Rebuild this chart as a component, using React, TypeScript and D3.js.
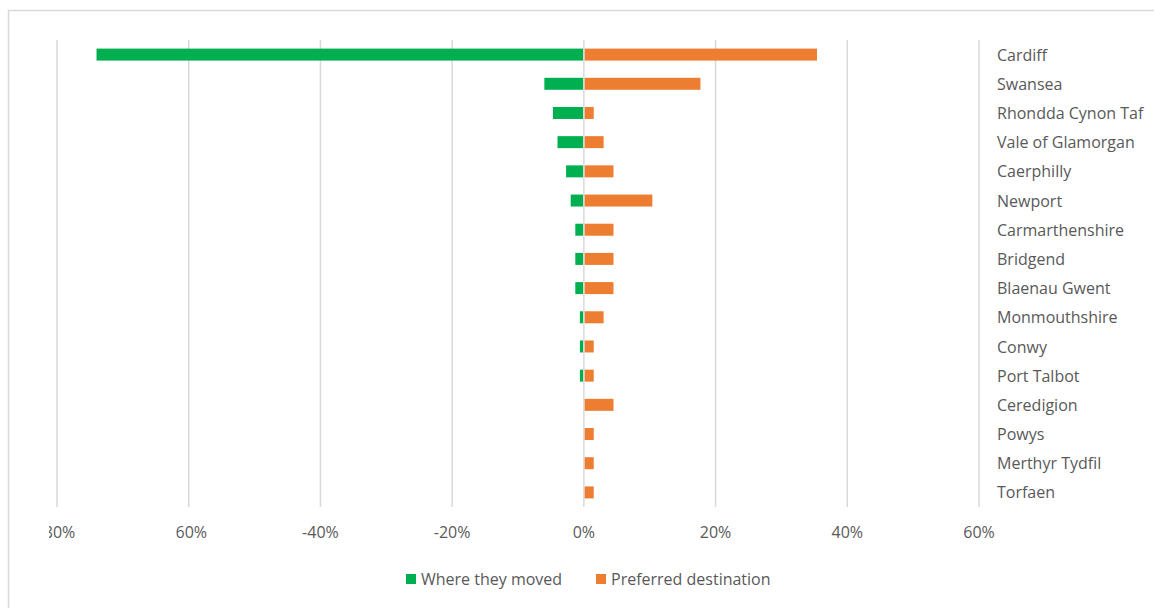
import React from "react";
import * as d3 from "d3";

const categories = [
  "Cardiff", "Swansea", "Rhondda Cynon Taf", "Vale of Glamorgan", "Caerphilly", "Newport",
  "Carmarthenshire", "Bridgend", "Blaenau Gwent", "Monmouthshire", "Conwy", "Port Talbot",
  "Ceredigion", "Powys", "Merthyr Tydfil", "Torfaen",
];
const whereTheyMoved = [-74.0, -6.0, -4.7, -4.0, -2.7, -2.0, -1.3, -1.3, -1.3, -0.6, -0.6, -0.6, 0, 0, 0, 0];
const preferredDestination = [35.4, 17.7, 1.5, 3.0, 4.5, 10.4, 4.5, 4.5, 4.5, 3.0, 1.5, 1.5, 4.5, 1.5, 1.5, 1.5];
const tickValues = [-80, -60, -40, -20, 0, 20, 40, 60];
const seriesNames = ["Where they moved", "Preferred destination"];
const colors = ["#00B050", "#ED7D31"];

const W = 1154;
const H = 608;
const FONT = "'Open Sans', sans-serif";
const FS = 16;

export default function App() {
  const x = d3.scaleLinear().domain([-80, 60]).range([57, 979]);
  const y = d3.scaleBand<string>().domain(categories).range([40, 507]);
  const barH = 12;
  const labelFmt = (v: number) => `${v}%`;

  return (
    <svg width={W} height={H} style={{ position: "fixed", left: 0, top: 0, background: "#fff" }}>
      <defs>
        <clipPath id="tickClip">
          <rect x={49} y={500} width={115} height={60} />
          <rect x={176.3} y={500} width={1000} height={60} />
        </clipPath>
      </defs>
      <rect x={8.5} y={10.5} width={W + 20} height={H + 20} fill="#fff" stroke="#d9d9d9" strokeWidth={1.5} />
      {tickValues.map((t) => (
        <line key={t} x1={x(t)} x2={x(t)} y1={40} y2={507} stroke="#d9d9d9" strokeWidth={1.5} />
      ))}
      {categories.map((c, i) => {
        const cy = (y(c) as number) + y.bandwidth() / 2;
        const g = whereTheyMoved[i];
        const o = preferredDestination[i];
        return (
          <g key={c}>
            {g < 0 && (
              <rect x={x(g)} y={cy - barH / 2} width={x(0) - x(g) - 0.8} height={barH} fill={colors[0]} />
            )}
            {o > 0 && (
              <rect x={x(0) + 0.8} y={cy - barH / 2} width={x(o) - x(0) - 0.8} height={barH} fill={colors[1]} />
            )}
            <text x={997} y={cy + 0.3} dy="0.36em" fontFamily={FONT} fontSize={FS} fill="#595959">{c}</text>
          </g>
        );
      })}
      <g clipPath="url(#tickClip)">
        {tickValues.map((t) => (
          <text key={t} x={x(t)} y={538} textAnchor="middle" fontFamily={FONT} fontSize={FS} fill="#595959">
            {labelFmt(t)}
          </text>
        ))}
      </g>
      <g>
        <rect x={406} y={574} width={10} height={10} fill={colors[0]} />
        <text x={421} y={585} fontFamily={FONT} fontSize={FS} fill="#595959">{seriesNames[0]}</text>
        <rect x={596} y={574} width={10} height={10} fill={colors[1]} />
        <text x={611} y={585} fontFamily={FONT} fontSize={FS} fill="#595959">{seriesNames[1]}</text>
      </g>
    </svg>
  );
}
